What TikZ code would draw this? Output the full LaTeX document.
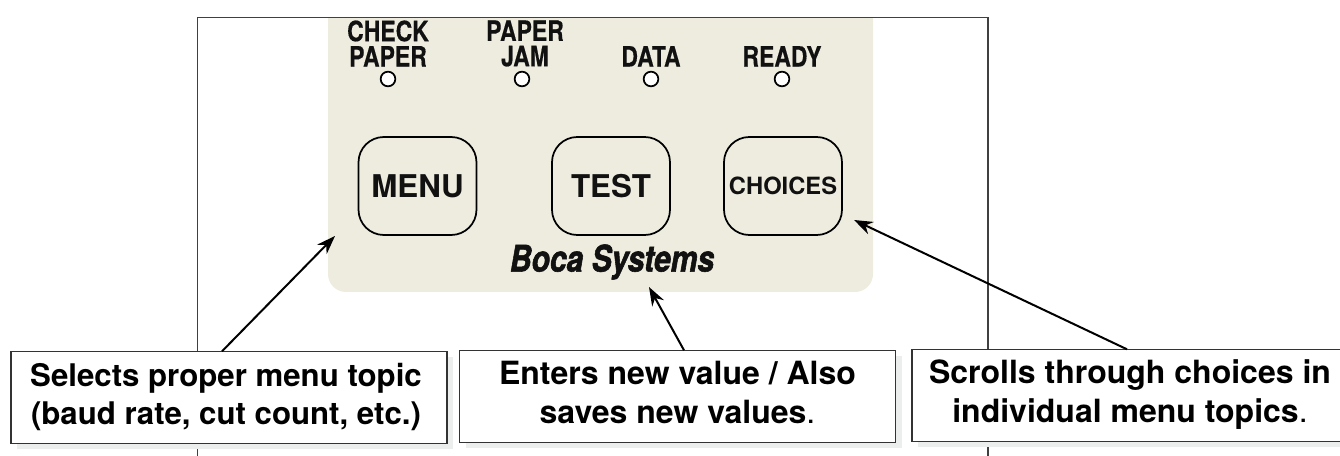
\documentclass[tikz,border=0pt]{standalone}
\usepackage{fontspec}
\setmainfont{TeX Gyre Heros}
\newfontfamily\ledfont[FakeStretch=0.82,BoldFeatures={FakeBold=0.4}]{TeX Gyre Heros}
\newfontfamily\logofont[FakeStretch=0.82,BoldItalicFeatures={FakeBold=1.5}]{TeX Gyre Heros}
\usetikzlibrary{positioning,shadows,arrows.meta}
\definecolor{panelfill}{HTML}{EEECDF}
\definecolor{shadowfill}{HTML}{ECEEED}
\definecolor{inkdark}{HTML}{111111}
\tikzset{
    led/.style={circle,draw=black,fill=white,line width=1.3pt,inner sep=0pt,minimum size=11pt},
    ledlabel/.style={font=\ledfont\fontsize{21}{19}\selectfont\bfseries,align=center,inner sep=0pt,text=inkdark},
    panelkey/.style={draw=black,line width=1.3pt,rounded corners=19pt,minimum width=88.5pt,minimum height=73.5pt,inner sep=0pt,text=inkdark},
    notebox/.style={draw=black!80,line width=.8pt,fill=white,align=center,inner sep=0pt,minimum width=327pt,minimum height=68.5pt,
        font=\fontsize{24}{29}\selectfont\bfseries,text=black,
        drop shadow={shadow xshift=4.5pt,shadow yshift=-4pt,fill=shadowfill,opacity=1}},
    pointer/.style={-{Stealth[length=14pt,width=10pt]},line width=1.5pt,black}
}
\begin{document}
\begin{tikzpicture}[x=.75pt,y=-.75pt]
    \useasboundingbox (0,0) rectangle (1340,456);
    \clip (0,0) rectangle (1340,456);
    % panel
    \fill[panelfill,rounded corners=13.5pt] (328,-20) -- (328,292) -- (873,292) -- (873,-20) -- cycle;
    \fill[white] (320,-30) rectangle (880,17);
    \draw[line width=.8pt,black!75] (197.5,470) -- (197.5,17.5) -- (988,17.5) -- (988,470);
    % lamps
    \node[led] (ledcheck) at (388,79) {};
    \node[led] (ledjam) at (522,79) {};
    \node[led] (leddata) at (651,79) {};
    \node[led] (ledready) at (782,79) {};
    \node[ledlabel,above=3pt of ledcheck] (labcheck) {CHECK\\PAPER};
    \node[ledlabel,above=3pt of ledjam,xshift=2.25pt] (labjam) {PAPER\\JAM};
    \node[ledlabel,above=3pt of leddata] (labdata) {DATA};
    \node[ledlabel,above=3pt of ledready] (labready) {READY};
    % keys
    \node[panelkey,font=\fontsize{23.5}{28}\selectfont\bfseries] (keymenu) at (417.5,186) {MENU};
    \node[panelkey,font=\fontsize{23.5}{28}\selectfont\bfseries] (keytest) at (611,186) {TEST};
    \node[panelkey,font=\fontsize{17.8}{22}\selectfont\bfseries] (keychoices) at (783,186) {CHOICES};
    \node[inner sep=0pt,text=inkdark,font=\logofont\fontsize{27.5}{28}\selectfont\bfseries\itshape] (logo) at (612,262) {Boca Systems};
    % notes
    \node[notebox,font=\fontsize{23.4}{28.5}\selectfont\bfseries] (notemenu) at (229,397.5) {\strut Selects proper menu topic\hspace*{4.5pt}\\\strut (baud rate, cut count, etc.)\hspace*{4.5pt}};
    \node[notebox] (notetest) at (677.5,396.5) {\strut Enters new value / Also\\\strut saves new values{\mdseries.}};
    \node[notebox] (notechoices) at (1130,395.5) {\strut Scrolls through choices in\\\strut individual menu topics{\mdseries.}};
    \coordinate (tipmenu) at (335,236);
    \coordinate (tiptest) at (649,287);
    \coordinate (tipchoices) at (854,220);
    \draw[pointer] ([xshift=-5.25pt]notemenu.north) to (tipmenu);
    \draw[pointer] ([xshift=4.9pt]notetest.north) to (tiptest);
    \draw[pointer] ([xshift=-2.25pt]notechoices.north) to (tipchoices);
\end{tikzpicture}
\end{document}
